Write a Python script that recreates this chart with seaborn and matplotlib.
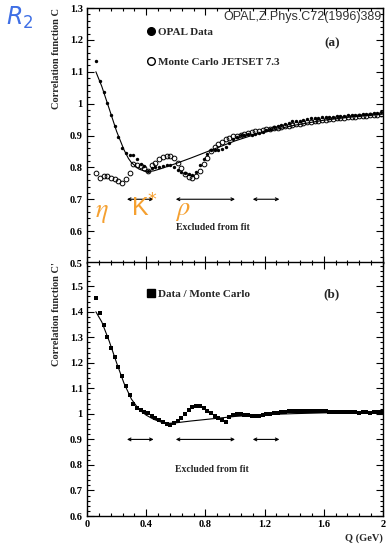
import matplotlib
matplotlib.use("Agg")
import matplotlib.pyplot as plt
import seaborn as sns
from matplotlib.ticker import MultipleLocator, FuncFormatter
from matplotlib.lines import Line2D

# ---------------- data ----------------
q = [0.0625, 0.0875, 0.1125, 0.1375, 0.1625, 0.1875, 0.2125, 0.2375, 0.2625, 0.2875,
     0.3125, 0.3375, 0.3625, 0.3875, 0.4125, 0.4375, 0.4625, 0.4875, 0.5125, 0.5375,
     0.5625, 0.5875, 0.6125, 0.6375, 0.6625, 0.6875, 0.7125, 0.7375, 0.7625, 0.7875,
     0.8125, 0.8375, 0.8625, 0.8875, 0.9125, 0.9375, 0.9625, 0.9875, 1.0125, 1.0375,
     1.0625, 1.0875, 1.1125, 1.1375, 1.1625, 1.1875, 1.2125, 1.2375, 1.2625, 1.2875,
     1.3125, 1.3375, 1.3625, 1.3875, 1.4125, 1.4375, 1.4625, 1.4875, 1.5125, 1.5375,
     1.5625, 1.5875, 1.6125, 1.6375, 1.6625, 1.6875, 1.7125, 1.7375, 1.7625, 1.7875,
     1.8125, 1.8375, 1.8625, 1.8875, 1.9125, 1.9375, 1.9625, 1.9875]

opal_data = [1.134, 1.070, 1.038, 1.001, 0.963, 0.929, 0.895, 0.862, 0.845, 0.840,
             0.840, 0.826, 0.812, 0.803, 0.788, 0.798, 0.800, 0.802, 0.804, 0.806,
             0.806, 0.800, 0.793, 0.784, 0.781, 0.780, 0.776, 0.786, 0.808, 0.825,
             0.842, 0.855, 0.856, 0.853, 0.857, 0.865, 0.878, 0.889, 0.896, 0.901,
             0.903, 0.904, 0.903, 0.904, 0.908, 0.912, 0.917, 0.921, 0.926, 0.929,
             0.933, 0.936, 0.940, 0.944, 0.946, 0.947, 0.949, 0.952, 0.954, 0.955,
             0.956, 0.957, 0.958, 0.959, 0.959, 0.960, 0.961, 0.962, 0.963, 0.964,
             0.965, 0.965, 0.967, 0.968, 0.968, 0.970, 0.972, 0.973]

mc_jetset = [0.782, 0.768, 0.772, 0.772, 0.768, 0.762, 0.756, 0.751, 0.762, 0.782,
             0.810, 0.806, 0.803, 0.799, 0.790, 0.807, 0.815, 0.825, 0.832, 0.836,
             0.837, 0.830, 0.815, 0.797, 0.778, 0.769, 0.766, 0.772, 0.790, 0.810,
             0.830, 0.850, 0.863, 0.872, 0.880, 0.888, 0.893, 0.898, 0.900, 0.903,
             0.906, 0.909, 0.911, 0.913, 0.915, 0.917, 0.919, 0.921, 0.923, 0.925,
             0.927, 0.929, 0.931, 0.933, 0.935, 0.937, 0.939, 0.941, 0.943, 0.945,
             0.947, 0.948, 0.950, 0.951, 0.952, 0.954, 0.955, 0.956, 0.957, 0.958,
             0.959, 0.960, 0.961, 0.962, 0.963, 0.964, 0.965, 0.966]

ratio = [1.455, 1.395, 1.350, 1.300, 1.258, 1.222, 1.183, 1.149, 1.110, 1.075,
         1.040, 1.025, 1.017, 1.008, 1.005, 0.990, 0.982, 0.976, 0.967, 0.961,
         0.958, 0.965, 0.972, 0.985, 1.000, 1.017, 1.027, 1.030, 1.029, 1.022,
         1.012, 1.002, 0.992, 0.983, 0.975, 0.968, 0.988, 0.995, 0.998, 0.999,
         0.997, 0.995, 0.991, 0.990, 0.992, 0.995, 0.998, 1.000, 1.003, 1.004,
         1.006, 1.008, 1.010, 1.012, 1.012, 1.011, 1.011, 1.013, 1.013, 1.012,
         1.011, 1.010, 1.010, 1.009, 1.008, 1.008, 1.007, 1.007, 1.007, 1.006,
         1.006, 1.005, 1.006, 1.006, 1.005, 1.006, 1.007, 1.007]

fit_top_q = [0.06, 0.10, 0.15, 0.20, 0.25, 0.28, 0.30, 0.35, 0.40, 0.45, 0.50,
             0.60, 0.70, 0.80, 0.90, 1.00, 1.10, 1.20, 1.40, 1.60, 1.80, 2.00]
fit_top_c = [1.100, 1.054, 0.984, 0.913, 0.855, 0.828, 0.815, 0.795, 0.786, 0.789, 0.796,
             0.812, 0.829, 0.847, 0.865, 0.883, 0.898, 0.911, 0.932, 0.948, 0.959, 0.967]

fit_bot_q = [0.06, 0.10, 0.15, 0.20, 0.25, 0.30, 0.35, 0.40, 0.45, 0.50, 0.55,
             0.60, 0.70, 0.80, 0.90, 1.00, 1.10, 1.20, 1.40, 1.60, 1.80, 2.00]
fit_bot_c = [1.400, 1.360, 1.285, 1.200, 1.120, 1.058, 1.018, 0.995, 0.979, 0.968, 0.963,
             0.965, 0.972, 0.978, 0.984, 0.990, 0.994, 0.997, 1.001, 1.004, 1.006, 1.007]

excluded_ranges = [(0.27, 0.45), (0.60, 1.00), (1.12, 1.30)]
excluded_y_top = 0.70
excluded_y_bot = 0.90

x_ticks = [0, 0.4, 0.8, 1.2, 1.6, 2.0]

# ---------------- style ----------------
sns.set_theme(style="ticks")
plt.rcParams["font.family"] = ["Liberation Serif", "DejaVu Serif"]
plt.rcParams["font.weight"] = "normal"
plt.rcParams["axes.linewidth"] = 1.0
plt.rcParams["mathtext.fontset"] = "dejavusans"

W, H = 391, 545
fig = plt.figure(figsize=(W / 100, H / 100), dpi=100)
ax1 = fig.add_axes([87 / W, 1 - 263 / H, 296 / W, 255 / H])
ax2 = fig.add_axes([87 / W, 1 - 516 / H, 296 / W, 254 / H])

orange = "#f5a030"
fmt = FuncFormatter(lambda v, p: f"{v:g}")

ax1.set_ylim(0.5, 1.3)
ax2.set_ylim(0.6, 1.595)

for ax in (ax1, ax2):
    ax.set_xlim(0, 2)
    ax.xaxis.set_major_locator(MultipleLocator(0.4))
    ax.xaxis.set_minor_locator(MultipleLocator(0.08))
    ax.yaxis.set_major_locator(MultipleLocator(0.1))
    ax.yaxis.set_minor_locator(MultipleLocator(0.02))
    ax.yaxis.set_major_formatter(fmt)
    ax.xaxis.set_major_formatter(fmt)
    ax.tick_params(which="both", direction="in", top=True, right=True,
                   labelsize=7.5, width=0.8, colors="black")
    ax.tick_params(which="major", length=5, pad=3)
    ax.tick_params(which="minor", length=2.5)
    for s in ax.spines.values():
        s.set_color("black")

ax1.tick_params(labelbottom=False)

# ---------------- top panel ----------------
sns.lineplot(x=fit_top_q, y=fit_top_c, ax=ax1, color="black", lw=0.8, sort=False, estimator=None)
sns.lineplot(x=q, y=mc_jetset, ax=ax1, linestyle="", marker="o", markersize=3.4,
             markerfacecolor="none", markeredgecolor="black", markeredgewidth=0.7,
             color="black", sort=False, estimator=None)
sns.scatterplot(x=q, y=opal_data, ax=ax1, marker="o", s=6, color="black", linewidth=0, zorder=3)

h1 = Line2D([], [], ls="", marker="o", markersize=5.5, color="black")
h2 = Line2D([], [], ls="", marker="o", markersize=5.5, markerfacecolor="white",
            markeredgecolor="black", markeredgewidth=1.0)
ax1.legend([h1, h2], ["OPAL Data", "Monte Carlo JETSET 7.3"], loc="upper left",
           bbox_to_anchor=(0.2, 0.925), frameon=False, borderpad=0, borderaxespad=0,
           handlelength=0.8, handletextpad=0.3, labelspacing=1.85,
           prop={"family": "Liberation Serif", "weight": "bold", "size": 8})

ax1.text(0.83, 0.86, "(a)", transform=ax1.transAxes, ha="center", va="center",
         fontsize=9.5, fontweight="bold")

for a, b in excluded_ranges:
    ax1.annotate("", xy=(b, excluded_y_top), xytext=(a, excluded_y_top),
                 arrowprops=dict(arrowstyle="<->", lw=0.8, color="black",
                                 shrinkA=0, shrinkB=0, mutation_scale=5))
    ax2.annotate("", xy=(b, excluded_y_bot), xytext=(a, excluded_y_bot),
                 arrowprops=dict(arrowstyle="<->", lw=0.8, color="black",
                                 shrinkA=0, shrinkB=0, mutation_scale=5))

ax1.text(0.60, 0.6125, "Excluded from fit", ha="left", va="center", fontsize=7, fontweight="bold")
ax2.text(0.595, 0.784, "Excluded from fit", ha="left", va="center", fontsize=7, fontweight="bold")

ax1.text(0.10, 0.655, r"$\eta$", color=orange, fontsize=19, ha="center", va="center",
         math_fontfamily="stix")
ax1.text(0.30, 0.674, "K$^{*}$", color=orange, fontsize=18, ha="left", va="center",
         family="Liberation Sans")
ax1.text(0.645, 0.66, r"$\rho$", color=orange, fontsize=19, ha="center", va="center",
         math_fontfamily="stix")

ax1.set_ylabel("Correlation function C", loc="top", fontsize=7.5, fontweight="bold", labelpad=6)
ax1.set_xlabel("")

# ---------------- bottom panel ----------------
sns.lineplot(x=fit_bot_q, y=fit_bot_c, ax=ax2, color="black", lw=0.8, sort=False, estimator=None)
sns.scatterplot(x=q, y=ratio, ax=ax2, marker="s", s=7, color="black", linewidth=0, zorder=3)

h3 = Line2D([], [], ls="", marker="s", markersize=5.5, color="black")
ax2.legend([h3], ["Data / Monte Carlo"], loc="upper left",
           bbox_to_anchor=(0.2, 0.893), frameon=False, borderpad=0, borderaxespad=0,
           handlelength=0.8, handletextpad=0.3,
           prop={"family": "Liberation Serif", "weight": "bold", "size": 8})

ax2.text(0.825, 0.873, "(b)", transform=ax2.transAxes, ha="center", va="center",
         fontsize=9.5, fontweight="bold")

ax2.set_xticks(x_ticks)
ax2.set_ylabel("Correlation function C'", loc="top", fontsize=7.5, fontweight="bold", labelpad=6)
ax2.set_xlabel("Q (GeV)", loc="right", fontsize=7.5, fontweight="bold", labelpad=3)

# bold tick labels
for ax in (ax1, ax2):
    for lab in ax.get_xticklabels() + ax.get_yticklabels():
        lab.set_fontweight("bold")

# ---------------- figure annotations ----------------
fig.text(223 / W, 1 - 17 / H, "OPAL,Z.Phys.C72(1996)389", family="Liberation Sans",
         fontsize=9, color="#333333", ha="left", va="center", zorder=10)
fig.text(6 / W, 1 - 18 / H, r"$R_2$", fontsize=17, color="#3f6fe5", ha="left", va="center")

fig.savefig("out.png", dpi=100)
